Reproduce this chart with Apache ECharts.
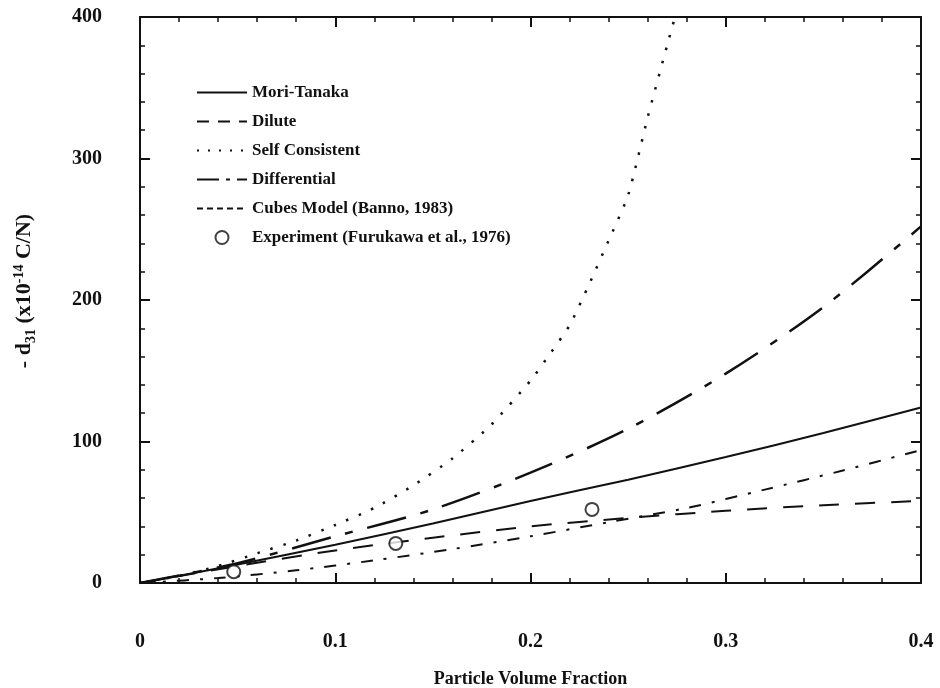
<!DOCTYPE html>
<html>
<head>
<meta charset="utf-8">
<script src="https://cdn.jsdelivr.net/npm/echarts@6/dist/echarts.min.js"></script>
<style>
  html, body { margin: 0; padding: 0; background: #fff; }
  #chart { width: 940px; height: 688px; }
</style>
</head>
<body>
<div id="chart"></div>
<script>
// values
var moriX = [0, 0.05, 0.1, 0.15, 0.2, 0.25, 0.3, 0.35, 0.4];
var moriY = [0, 13, 27, 42, 58, 73, 89, 106, 124];

var diluteX = [0, 0.05, 0.1, 0.15, 0.2, 0.25, 0.3, 0.35, 0.4];
var diluteY = [0, 12, 23, 32, 40, 46, 51, 55, 58];

var selfX = [0, 0.02, 0.04, 0.06, 0.08, 0.1, 0.12, 0.14, 0.16, 0.18, 0.2, 0.21, 0.22, 0.23, 0.24, 0.25, 0.26, 0.27, 0.274];
var selfY = [0, 5, 12, 21, 30, 41, 53, 69, 88, 112, 143, 162, 182, 211, 242, 274, 329, 380, 400];

var diffX = [0, 0.05, 0.1, 0.15, 0.2, 0.25, 0.3, 0.35, 0.4];
var diffY = [0, 14, 33, 52, 78, 109, 148, 195, 252];

var cubesX = [0, 0.04, 0.08, 0.12, 0.16, 0.2, 0.24, 0.28, 0.32, 0.36, 0.4];
var cubesY = [0, 3.5, 9, 16, 24, 33, 43, 53, 66, 79.5, 94];

var expX = [0.048, 0.131, 0.2315];
var expY = [8, 28, 52];

var names = ['Mori-Tanaka', 'Dilute', 'Self Consistent', 'Differential',
  'Cubes Model (Banno, 1983)', 'Experiment (Furukawa et al., 1976)'];

var xTicks = { min: 0, max: 0.4, interval: 0.1 };
var yTicks = { min: 0, max: 400, interval: 100 };

function pairs(xs, ys) {
  return xs.map(function (x, i) { return [x, ys[i]]; });
}

var font = 'Liberation Serif, Times New Roman, serif';
var ink = '#111';

function curve(name, xs, ys, dash, width, smooth) {
  return {
    name: name,
    type: 'line',
    data: pairs(xs, ys),
    smooth: smooth,
    symbol: 'none',
    showSymbol: false,
    lineStyle: { color: ink, width: width, type: dash },
    itemStyle: { color: ink },
    z: 3
  };
}

function xAxisDef(pos, show) {
  return {
    type: 'value',
    position: pos,
    min: xTicks.min, max: xTicks.max, interval: xTicks.interval,
    axisLine: { show: true, onZero: false, lineStyle: { color: ink, width: 2 } },
    axisTick: { show: true, inside: true, length: 10, lineStyle: { color: ink, width: 2 } },
    minorTick: { show: true, splitNumber: 5, length: 5, lineStyle: { color: ink, width: 1.5 } },
    splitLine: { show: false },
    axisLabel: { show: show, margin: 49, color: ink, fontFamily: font, fontWeight: 'bold', fontSize: 20,
      formatter: function (v) { return v === 0 ? '0' : String(+v.toFixed(1)); } },
    name: show ? 'Particle Volume Fraction' : '',
    nameLocation: 'middle',
    nameGap: 87,
    nameTextStyle: { color: ink, fontFamily: font, fontWeight: 'bold', fontSize: 18 }
  };
}

function yAxisDef(pos, show) {
  return {
    type: 'value',
    position: pos,
    min: yTicks.min, max: yTicks.max, interval: yTicks.interval,
    axisLine: { show: true, onZero: false, lineStyle: { color: ink, width: 2 } },
    axisTick: { show: true, inside: true, length: 10, lineStyle: { color: ink, width: 2 } },
    minorTick: { show: true, splitNumber: 5, length: 5, lineStyle: { color: ink, width: 1.5 } },
    splitLine: { show: false },
    axisLabel: { show: show, margin: 38, color: ink, fontFamily: font, fontWeight: 'bold', fontSize: 20 },
    name: show ? '{t|- d}{sub|31}{t| (x10}{sup|-14}{t| C/N)}' : '',
    nameLocation: 'middle',
    nameRotate: 90,
    nameGap: 100,
    nameTextStyle: {
      color: ink, fontFamily: font, fontWeight: 'bold', fontSize: 22,
      padding: [0, 0, 0, 18],
      rich: {
        t: { fontFamily: font, fontWeight: 'bold', fontSize: 22, color: ink, lineHeight: 32, verticalAlign: 'middle' },
        sub: { fontFamily: font, fontWeight: 'bold', fontSize: 14, color: ink, lineHeight: 32, verticalAlign: 'bottom', padding: [0, 0, 2, 0] },
        sup: { fontFamily: font, fontWeight: 'bold', fontSize: 14, color: ink, lineHeight: 32, verticalAlign: 'top', padding: [4, 0, 0, 0] }
      }
    }
  };
}

// legend samples: lines get no marker, and dash patterns short enough to show in 50px
var legendDash = ['solid', [12, 9], [2, 9], [22, 7, 4, 7], [6, 4]];
var legendData = names.map(function (n, i) {
  if (i < 5) {
    return { name: n, itemStyle: { opacity: 0 }, lineStyle: { type: legendDash[i] } };
  }
  return { name: n };
});

var chart = echarts.init(document.getElementById('chart'));
chart.setOption({
  backgroundColor: '#fff',
  animation: false,
  grid: { left: 140, right: 19, top: 17, bottom: 105, outerBoundsMode: 'none' },
  legend: {
    data: legendData,
    orient: 'vertical',
    left: 196,
    top: 84,
    padding: 0,
    itemWidth: 50,
    itemHeight: 13,
    itemGap: 12,
    textStyle: { color: ink, fontFamily: font, fontWeight: 'bold', fontSize: 17, lineHeight: 17 }
  },
  xAxis: [xAxisDef('bottom', true), xAxisDef('top', false)],
  yAxis: [yAxisDef('left', true), yAxisDef('right', false)],
  series: [
    curve(names[0], moriX, moriY, 'solid', 2, 0.3),
    curve(names[1], diluteX, diluteY, [20, 16], 2, 0.3),
    curve(names[2], selfX, selfY, [2.5, 11], 2.5, 0.2),
    curve(names[3], diffX, diffY, [40, 15, 8, 15], 2.5, 0.3),
    curve(names[4], cubesX, cubesY, [12, 11, 3, 11], 2, 0.3),
    {
      name: names[5],
      type: 'scatter',
      data: pairs(expX, expY),
      symbol: 'circle',
      symbolSize: 13,
      itemStyle: { color: '#fff', borderColor: ink, borderWidth: 2 },
      z: 4
    }
  ]
});
</script>
</body>
</html>
